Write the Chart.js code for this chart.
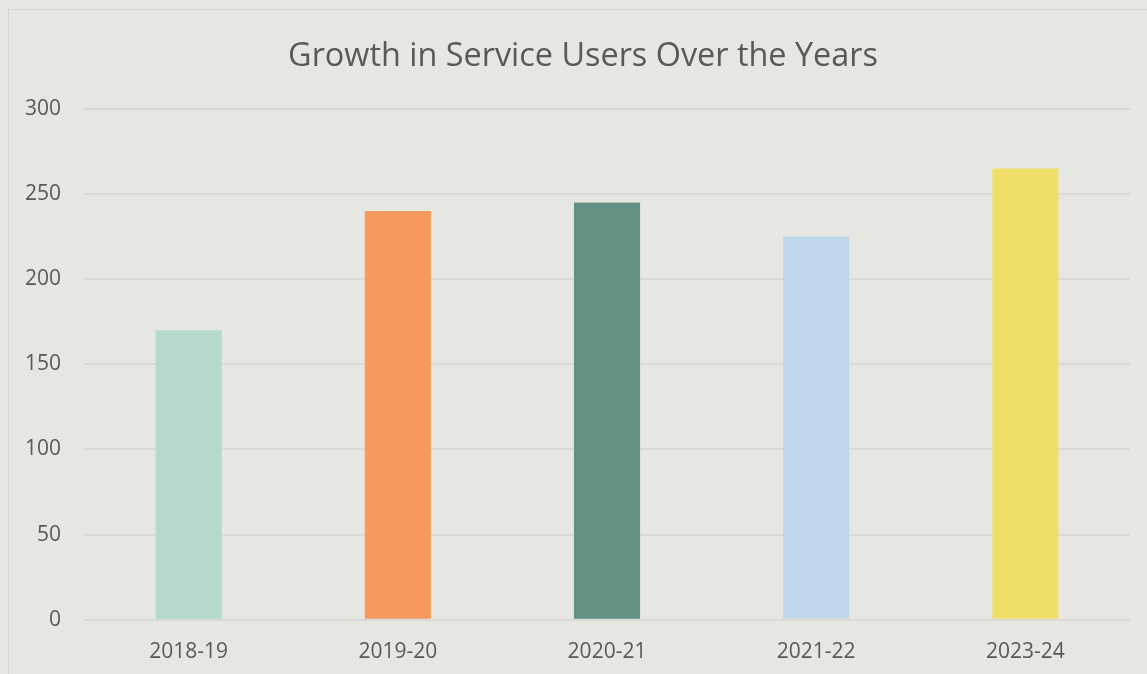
<!DOCTYPE html>
<html>
<head>
<meta charset="utf-8">
<script src="https://cdn.jsdelivr.net/npm/chart.js@4.4.0/dist/chart.umd.min.js"></script>
<style>
    html, body { margin: 0; padding: 0; background: #e6e7e1; overflow: hidden; }
    #frame {
        position: absolute; left: 8px; top: 9px; width: 1160px; height: 700px;
        border: 1px solid #d6d6d2; box-sizing: border-box;
    }
    #wrap { position: absolute; left: 0; top: 0; width: 1147px; height: 674px; }
</style>
</head>
<body>
<div id="frame"></div>
<div id="wrap"><canvas id="usersChart"></canvas></div>
<script>
const years = ['2018-19', '2019-20', '2020-21', '2021-22', '2023-24'];
const serviceUsers = [170, 240, 245, 225, 265];
const barColours = ['#b4dacb', '#f7995e', '#639285', '#c0d6ea', '#efde69'];
const yTicks = [0, 50, 100, 150, 200, 250, 300];

const textColour = '#595959';
Chart.defaults.font.family = '"Open Sans", sans-serif';

// the title sits centred on the whole frame, not on the padded chart box
const shiftTitle = {
    id: 'shiftTitle',
    afterLayout(chart) {
        const t = chart.titleBlock;
        if (t) { t.left += 34; }
    }
};

const ctx = document.getElementById('usersChart').getContext('2d');
new Chart(ctx, {
    type: 'bar',
    data: {
        labels: years,
        datasets: [{
            label: 'Service users',
            data: serviceUsers,
            backgroundColor: barColours,
            borderWidth: 0,
            barPercentage: 0.316,
            categoryPercentage: 1
        }]
    },
    options: {
        responsive: true,
        maintainAspectRatio: false,
        animation: false,
        layout: { padding: { left: 2, right: 17, top: 37, bottom: -3 } },
        plugins: {
            legend: { display: false },
            tooltip: { enabled: false },
            title: {
                display: true,
                text: 'Growth in Service Users Over the Years',
                color: textColour,
                font: { size: 32.4, weight: 'normal' },
                padding: { top: 0, bottom: 33 }
            }
        },
        scales: {
            x: {
                grid: { display: false },
                border: { display: false },
                ticks: { color: textColour, font: { size: 21 }, padding: 12 }
            },
            y: {
                min: 0,
                max: 300,
                afterBuildTicks: axis => { axis.ticks = yTicks.map(v => ({ value: v })); },
                grid: { color: '#d9d9d6', lineWidth: 2, drawTicks: false },
                border: { display: false },
                ticks: { color: textColour, font: { size: 21 }, padding: 23 }
            }
        }
    },
    plugins: [shiftTitle]
});
</script>
</body>
</html>
